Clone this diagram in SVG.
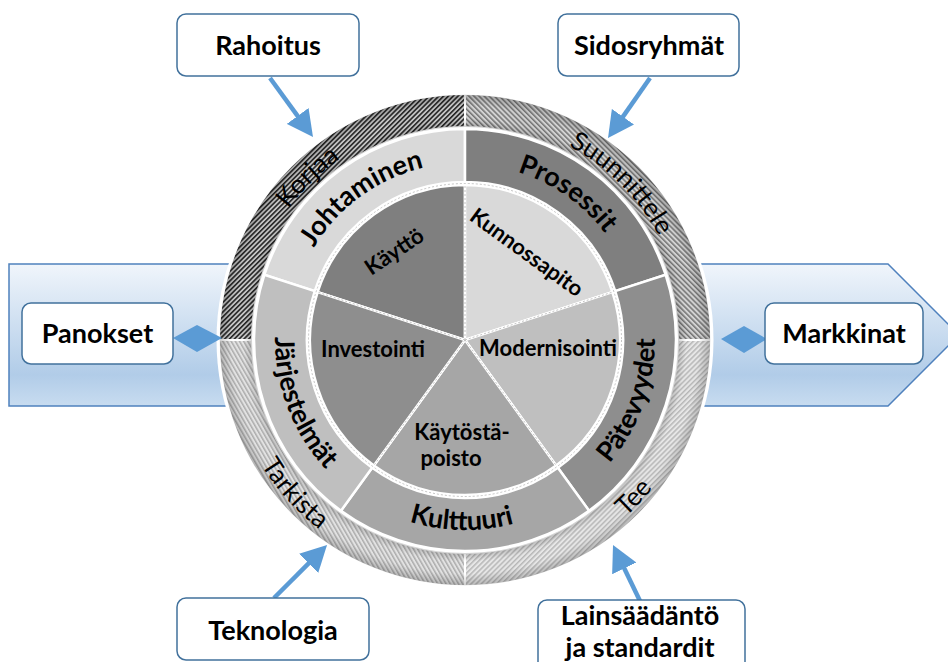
<svg xmlns="http://www.w3.org/2000/svg" width="948" height="662" viewBox="0 0 948 662">
  <style>
    text { font-family: Lato, "Liberation Sans", sans-serif; fill: #000; }
    .box { fill: #fff; stroke: #41719c; stroke-width: 1.5; }
    .boxt { font-size: 27px; font-weight: 700; text-anchor: middle; }
    .ringt { font-size: 27px; font-weight: 700; }
    .outt { font-size: 26px; font-weight: 400; }
    .piet { font-size: 22px; font-weight: 700; text-anchor: middle; }
    .seg { stroke: #fff; stroke-width: 2.5; }
    .quad { stroke: #fff; stroke-width: 2; }
    .sep { stroke: #b5b5b5; stroke-width: 0.8; stroke-dasharray: 2 2; fill: none; }
    .arrow { stroke: #5b9bd5; stroke-width: 4.5; fill: none; marker-end: url(#head); }
    .dbl { fill: #5b9bd5; }
  </style>
  <defs>
    <linearGradient id="bandFill" x1="0" y1="0" x2="0" y2="1">
      <stop offset="0" stop-color="#f0f5fb"/>
      <stop offset="0.78" stop-color="#b1cce8"/>
      <stop offset="1" stop-color="#c8dcf0"/>
    </linearGradient>
    <radialGradient id="bevel" gradientUnits="userSpaceOnUse" cx="465" cy="340" r="246">
      <stop offset="0.866" stop-color="#000" stop-opacity="0.18"/>
      <stop offset="0.9" stop-color="#000" stop-opacity="0"/>
      <stop offset="0.95" stop-color="#000" stop-opacity="0"/>
      <stop offset="1" stop-color="#000" stop-opacity="0.22"/>
    </radialGradient>
    <pattern id="hatchKorjaa" patternUnits="userSpaceOnUse" width="3.4" height="3.4" patternTransform="rotate(45)">
      <rect width="3.4" height="3.4" fill="#c4c4c4"/>
      <line x1="0.8" y1="0" x2="0.8" y2="3.4" stroke="#1a1a1a" stroke-width="1.5"/>
    </pattern>
    <pattern id="hatchSuunnittele" patternUnits="userSpaceOnUse" width="3.6" height="3.6" patternTransform="rotate(-45)">
      <rect width="3.6" height="3.6" fill="#d2d2d2"/>
      <line x1="0.8" y1="0" x2="0.8" y2="3.6" stroke="#505050" stroke-width="1.1"/>
    </pattern>
    <pattern id="hatchTarkista" patternUnits="userSpaceOnUse" width="3.6" height="3.6" patternTransform="rotate(-30)">
      <rect width="3.6" height="3.6" fill="#e2e2e2"/>
      <line x1="0.8" y1="0" x2="0.8" y2="3.6" stroke="#929292" stroke-width="1"/>
    </pattern>
    <pattern id="hatchTee" patternUnits="userSpaceOnUse" width="3.6" height="3.6" patternTransform="rotate(45)">
      <rect width="3.6" height="3.6" fill="#e6e6e6"/>
      <line x1="0.8" y1="0" x2="0.8" y2="3.6" stroke="#a0a0a0" stroke-width="1"/>
    </pattern>
    <marker id="head" markerUnits="userSpaceOnUse" markerWidth="26" markerHeight="27" viewBox="0 0 26 27" refX="6" refY="13.5" orient="auto">
      <path d="M0,0 L26,13.5 L0,27 Z" fill="#5b9bd5"/>
    </marker>
    <!-- arcs used as baselines for the curved labels -->
    <path id="arcJohtaminen" d="M293.26,297.18 A176,176 0 0 1 477.35,163.43"/>
    <path id="arcProsessit" d="M449.66,164.67 A176,176 0 0 1 635.00,294.45"/>
    <path id="arcPatevyydet" d="M560,504.54 A190,190 0 0 0 643.54,275.02"/>
    <path id="arcKulttuuri" d="M340.35,483.39 A190,190 0 0 0 584.57,487.66"/>
    <path id="arcJarjestelmat" d="M285.35,278.14 A190,190 0 0 0 372.89,506.18"/>
    <path id="arcKorjaa" d="M246.20,316.79 A220,220 0 0 1 449.65,120.54"/>
    <path id="arcSuunnittele" d="M484.17,120.84 A220,220 0 0 1 684.16,320.83"/>
    <path id="arcTarkista" d="M226.15,348.34 A239,239 0 0 0 431.74,576.67"/>
    <path id="arcTee" d="M494.13,577.22 A239,239 0 0 0 703.67,352.51"/>
  </defs>

  <!-- flow band from inputs to markets -->
  <g id="band">
    <path d="M9,264 L888,264 L959,335 L888,406 L9,406 Z" fill="url(#bandFill)" stroke="#4f81bd" stroke-width="1.5"/>
  </g>

  <!-- wheel backdrop -->
  <circle cx="465" cy="340" r="248.5" fill="#fff"/>

  <!-- outer cycle ring -->
  <g id="ring-korjaa">
    <path class="quad" fill="url(#hatchKorjaa)" d="M219,340 A246,246 0 0 1 465,94 L465,127 A213,213 0 0 0 252,340 Z"/>
  </g>
  <g id="ring-suunnittele">
    <path class="quad" fill="url(#hatchSuunnittele)" d="M465,94 A246,246 0 0 1 711,340 L678,340 A213,213 0 0 0 465,127 Z"/>
  </g>
  <g id="ring-tee">
    <path class="quad" fill="url(#hatchTee)" d="M711,340 A246,246 0 0 1 465,586 L465,553 A213,213 0 0 0 678,340 Z"/>
  </g>
  <g id="ring-tarkista">
    <path class="quad" fill="url(#hatchTarkista)" d="M465,586 A246,246 0 0 1 219,340 L252,340 A213,213 0 0 0 465,553 Z"/>
  </g>
  <path d="M465,94 A246,246 0 1 1 464.99,94 Z M465,127 A213,213 0 1 0 465.01,127 Z" fill="url(#bevel)" fill-rule="evenodd"/>
  <circle cx="465" cy="340" r="246" fill="none" stroke="#fff" stroke-width="1.5"/>
  <text class="outt"><textPath href="#arcKorjaa" startOffset="50%" text-anchor="middle">Korjaa</textPath></text>
  <text class="outt"><textPath href="#arcSuunnittele" startOffset="50%" text-anchor="middle">Suunnittele</textPath></text>
  <text class="outt"><textPath href="#arcTarkista" startOffset="50%" text-anchor="middle">Tarkista</textPath></text>
  <text class="outt"><textPath href="#arcTee" startOffset="50%" text-anchor="middle">Tee</textPath></text>

  <!-- middle ring: capability areas -->
  <g id="seg-johtaminen">
    <path class="seg" fill="#d9d9d9" d="M264.33,274.80 A211,211 0 0 1 465,129 L465,182 A158,158 0 0 0 314.73,291.17 Z"/>
    <text class="ringt"><textPath href="#arcJohtaminen" startOffset="50%" text-anchor="middle">Johtaminen</textPath></text>
  </g>
  <g id="seg-prosessit">
    <path class="seg" fill="#7f7f7f" d="M465,129 A211,211 0 0 1 665.67,274.80 L615.27,291.17 A158,158 0 0 0 465,182 Z"/>
    <text class="ringt"><textPath href="#arcProsessit" startOffset="50%" text-anchor="middle">Prosessit</textPath></text>
  </g>
  <g id="seg-patevyydet">
    <path class="seg" fill="#8e8e8e" d="M665.67,274.80 A211,211 0 0 1 589.02,510.70 L557.87,467.83 A158,158 0 0 0 615.27,291.17 Z"/>
    <text class="ringt"><textPath href="#arcPatevyydet" startOffset="50%" text-anchor="middle">Pätevyydet</textPath></text>
  </g>
  <g id="seg-kulttuuri">
    <path class="seg" fill="#a6a6a6" d="M589.02,510.70 A211,211 0 0 1 340.98,510.70 L372.13,467.83 A158,158 0 0 0 557.87,467.83 Z"/>
    <text class="ringt"><textPath href="#arcKulttuuri" startOffset="50%" text-anchor="middle">Kulttuuri</textPath></text>
  </g>
  <g id="seg-jarjestelmat">
    <path class="seg" fill="#bfbfbf" d="M340.98,510.70 A211,211 0 0 1 264.33,274.80 L314.73,291.17 A158,158 0 0 0 372.13,467.83 Z"/>
    <text class="ringt"><textPath href="#arcJarjestelmat" startOffset="50%" text-anchor="middle">Järjestelmät</textPath></text>
  </g>

  <!-- inner pie: life-cycle phases -->
  <g id="pie-kaytto">
    <path class="seg" fill="#7f7f7f" d="M465,340 L317.59,292.10 A155,155 0 0 1 465,185 Z"/>
    <text class="piet" transform="translate(394,251) rotate(-34)" x="0" y="8">Käyttö</text>
  </g>
  <g id="pie-kunnossapito">
    <path class="seg" fill="#d9d9d9" d="M465,340 L465,185 A155,155 0 0 1 612.41,292.10 Z"/>
    <text class="piet" transform="translate(527,252) rotate(36)" x="0" y="8">Kunnossapito</text>
  </g>
  <g id="pie-modernisointi">
    <path class="seg" fill="#bfbfbf" d="M465,340 L612.41,292.10 A155,155 0 0 1 556.11,465.40 Z"/>
    <text class="piet" x="548" y="356">Modernisointi</text>
  </g>
  <g id="pie-kaytostapoisto">
    <path class="seg" fill="#a6a6a6" d="M465,340 L556.11,465.40 A155,155 0 0 1 373.89,465.40 Z"/>
    <text class="piet" x="462" y="440">Käytöstä-</text>
    <text class="piet" x="451" y="466">poisto</text>
  </g>
  <g id="pie-investointi">
    <path class="seg" fill="#8e8e8e" d="M465,340 L373.89,465.40 A155,155 0 0 1 317.59,292.10 Z"/>
    <text class="piet" x="373" y="357">Investointi</text>
  </g>
  <path class="sep" d="M465,340 L317.59,292.10 M465,340 L465,185 M465,340 L612.41,292.10 M465,340 L556.11,465.40 M465,340 L373.89,465.40"/>
  <circle class="sep" cx="465" cy="340" r="156.5"/>

  <!-- connectors -->
  <g id="connectors">
    <line class="arrow" x1="270" y1="78" x2="301.2" y2="120.8"/>
    <line class="arrow" x1="650" y1="78" x2="619.5" y2="121.6"/>
    <line class="arrow" x1="274" y1="598" x2="312.9" y2="559.1"/>
    <line class="arrow" x1="640" y1="601" x2="621.7" y2="563"/>
    <polygon class="dbl" points="173,338 197,325 222,338 197,352"/>
    <polygon class="dbl" points="721,339 744,326 767,339 744,353"/>
  </g>

  <!-- external factors -->
  <g id="node-rahoitus">
    <rect class="box" x="177" y="14" width="182" height="62" rx="9"/>
    <text class="boxt" x="268" y="55">Rahoitus</text>
  </g>
  <g id="node-sidosryhmat">
    <rect class="box" x="558" y="14" width="181" height="62" rx="9"/>
    <text class="boxt" x="649" y="55">Sidosryhmät</text>
  </g>
  <g id="node-panokset">
    <rect class="box" x="22" y="303" width="151" height="61" rx="9"/>
    <text class="boxt" x="97.5" y="343">Panokset</text>
  </g>
  <g id="node-markkinat">
    <rect class="box" x="765" y="303" width="158" height="61" rx="9"/>
    <text class="boxt" x="844" y="343">Markkinat</text>
  </g>
  <g id="node-teknologia">
    <rect class="box" x="177" y="598" width="192" height="62" rx="9"/>
    <text class="boxt" x="273" y="640">Teknologia</text>
  </g>
  <g id="node-lainsaadanto">
    <rect class="box" x="538" y="600" width="207" height="80" rx="9"/>
    <text class="boxt" x="640" y="625">Lainsäädäntö</text>
    <text class="boxt" x="640" y="657">ja standardit</text>
  </g>
</svg>
